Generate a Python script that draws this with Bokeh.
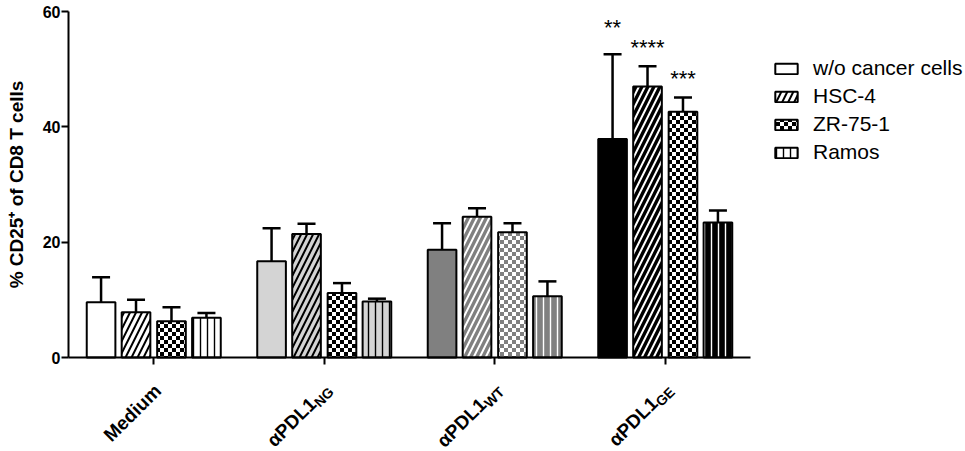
import zlib, struct, base64, math
from bokeh.plotting import figure
from bokeh.models import (ColumnDataSource, Range1d, FixedTicker, Whisker, TeeHead,
                          Legend, LegendItem, Label, ImageURLTexture)
from bokeh.core.properties import value
from bokeh.embed import file_html
from bokeh.resources import INLINE

# ---------------- data ----------------
groups = ["Medium", "αPDL1", "αPDL1", "αPDL1"]
group_subs = ["", "NG", "WT", "GE"]
series = ["w/o cancer cells", "HSC-4", "ZR-75-1", "Ramos"]

mean_wo    = [9.6, 16.7, 18.7, 37.9]
mean_hsc   = [7.85, 21.4, 24.4, 47.0]
mean_zr    = [6.3, 11.2, 21.7, 42.6]
mean_ramos = [6.9, 9.7, 10.6, 23.4]

top_wo    = [13.9, 22.4, 23.3, 52.6]
top_hsc   = [10.0, 23.2, 25.9, 50.5]
top_zr    = [8.7, 12.9, 23.3, 45.1]
top_ramos = [7.7, 10.2, 13.2, 25.5]

star_text = ["**", "****", "***"]
star_y = [57.2, 53.7, 48.4]

y_ticks = [0, 20, 40, 60]

# ---------------- styles / layout ----------------
FONT = "Liberation Sans"
LGRAY = "#d4d4d4"
DGRAY = "#808080"
group_fill = ["white", LGRAY, DGRAY, "black"]
zr_fill = ["white", "white", DGRAY, "black"]
hatch_col = ["black", "black", "white", "white"]
zr_pat = ["chkB", "chkB", "chkW", "chkW"]

offsets = [-0.309, -0.104, 0.104, 0.309]
bar_w = 0.168

W, H = 965, 451
AX_L, AX_R = 68, 750      # canvas px of x = 0 and x = 4
AX_T, AX_B = 11, 357      # canvas px of y = 60 and y = 0
n_groups = len(groups)
ymax = y_ticks[-1]
pxx = (AX_R - AX_L) / n_groups
pxy = (AX_B - AX_T) / ymax
x0 = -AX_L / pxx
x1 = n_groups + (W - AX_R) / pxx
y1 = ymax + AX_T / pxy
y0 = -(H - AX_B) / pxy

MAIN_PX, SUB_PX = 19, 14
BOLD_W = {"N": 0.722, "G": 0.778, "W": 0.944, "T": 0.611, "E": 0.667}


def png_rgba(w, h, pix):
    raw = b"".join(b"\x00" + bytes(c for px in row for c in px) for row in pix)

    def chunk(t, d):
        c = struct.pack(">I", len(d)) + t + d
        return c + struct.pack(">I", zlib.crc32(t + d) & 0xffffffff)
    return (b"\x89PNG\r\n\x1a\n" +
            chunk(b"IHDR", struct.pack(">IIBBBBB", w, h, 8, 6, 0, 0, 0)) +
            chunk(b"IDAT", zlib.compress(raw)) + chunk(b"IEND", b""))


def checker_uri(rgb, cell=4):
    n = cell * 2
    pix = []
    for yy in range(n):
        row = []
        for xx in range(n):
            on = ((xx // cell) + (yy // cell)) % 2 == 0
            row.append(tuple(rgb) + (255,) if on else (0, 0, 0, 0))
        pix.append(row)
    return "data:image/png;base64," + base64.b64encode(png_rgba(n, n, pix)).decode()


tex = {"chkB": ImageURLTexture(url=checker_uri((0, 0, 0)), repetition="repeat"),
       "chkW": ImageURLTexture(url=checker_uri((255, 255, 255)), repetition="repeat")}

p = figure(width=W, height=H, output_backend="svg", toolbar_location=None,
           x_range=Range1d(x0, x1), y_range=Range1d(y0, y1),
           min_border_left=0, min_border_right=0, min_border_top=0,
           min_border_bottom=0)
p.outline_line_color = None
p.xgrid.visible = False
p.ygrid.visible = False

centers = [i + 0.5 for i in range(n_groups)]
means = [mean_wo, mean_hsc, mean_zr, mean_ramos]
tops = [top_wo, top_hsc, top_zr, top_ramos]
fills = [group_fill, group_fill, zr_fill, group_fill]
pats = [[" "] * 4, ["/"] * 4, zr_pat, ["|"] * 4]
scales = [12, 12, 12, 7]
weights = [1, 2, 1, 1.4]

items = []
for s in range(len(series)):
    xs = [c + offsets[s] for c in centers]
    src = ColumnDataSource(dict(x=xs, top=means[s], upper=tops[s], fill=fills[s],
                                hcol=hatch_col, pat=pats[s]))
    r = p.vbar(x="x", top="top", bottom=0, width=bar_w, source=src,
               fill_color="fill", line_color="black", line_width=2,
               hatch_pattern="pat", hatch_color="hcol", hatch_scale=scales[s],
               hatch_weight=weights[s], hatch_extra=tex)
    wk = Whisker(source=src, base="x", lower="top", upper="upper",
                 line_color="black", line_width=2.5,
                 lower_head=None,
                 upper_head=TeeHead(size=18, line_width=2.5, line_color="black"))
    p.add_layout(wk)
    items.append(LegendItem(label=series[s], renderers=[r], index=0))

# significance stars over the αPDL1 GE group
star_x = [centers[3] + offsets[i] for i in range(len(star_text))]
p.text(x=star_x, y=star_y, text=star_text, text_align="center",
       text_baseline="alphabetic", text_font=value(FONT), text_font_size="22px",
       text_color="black")

# axes (anchored at the data origin)
yax = p.yaxis[0]
yax.fixed_location = 0
yax.bounds = (0, ymax)
yax.ticker = FixedTicker(ticks=y_ticks)
yax.minor_tick_line_color = None
yax.axis_line_width = 2
yax.major_tick_line_width = 2
yax.major_tick_out = 7
yax.major_tick_in = 0
yax.major_label_standoff = 1
yax.major_label_text_font = FONT
yax.major_label_text_font_style = "bold"
yax.major_label_text_font_size = "16px"
yax.major_label_text_color = "black"
yax.axis_label = "% CD25⁺ of CD8 T cells"
yax.axis_label_text_font = FONT
yax.axis_label_text_font_style = "bold"
yax.axis_label_text_font_size = "19px"
yax.axis_label_standoff = 13
yax.axis_label_text_color = "black"

xax = p.xaxis[0]
xax.fixed_location = 0
xax.bounds = (0, n_groups)
xax.ticker = FixedTicker(ticks=centers)
xax.minor_tick_line_color = None
xax.axis_line_width = 2
xax.major_tick_line_width = 2
xax.major_tick_out = 7
xax.major_tick_in = 0
xax.major_label_overrides = {c: "" for c in centers}

# category labels (rotated 45 deg, with subscripts)
ang = math.pi / 4
cs = math.cos(ang)
DROP = 5
for i, c in enumerate(centers):
    sub = group_subs[i]
    if sub:
        sx, sy = 7, -32
        L = sum(BOLD_W[ch] for ch in sub) * SUB_PX
        mx = sx - cs * L - cs * DROP
        my = sy - cs * L + cs * DROP
        p.add_layout(Label(x=c, y=0, x_offset=sx, y_offset=sy, text=sub,
                           angle=ang, text_align="right", text_baseline="alphabetic",
                           text_font=FONT, text_font_style="bold",
                           text_font_size=f"{SUB_PX}px", text_color="black"))
        p.add_layout(Label(x=c, y=0, x_offset=mx, y_offset=my,
                           text=groups[i], angle=ang, text_align="right",
                           text_baseline="alphabetic", text_font=FONT,
                           text_font_style="bold", text_font_size=f"{MAIN_PX}px",
                           text_color="black"))
    else:
        p.add_layout(Label(x=c, y=0, x_offset=4, y_offset=-30, text=groups[i],
                           angle=ang, text_align="right", text_baseline="alphabetic",
                           text_font=FONT, text_font_style="bold",
                           text_font_size=f"{MAIN_PX}px", text_color="black"))

legend = Legend(items=items, location=(772, 287), border_line_color=None,
                background_fill_alpha=0, glyph_width=28, glyph_height=13,
                label_standoff=13, spacing=4, padding=0, margin=0,
                label_text_font=FONT, label_text_font_size="21px",
                label_text_color="black")
p.add_layout(legend)

open("out.html", "w").write(file_html(p, INLINE))
